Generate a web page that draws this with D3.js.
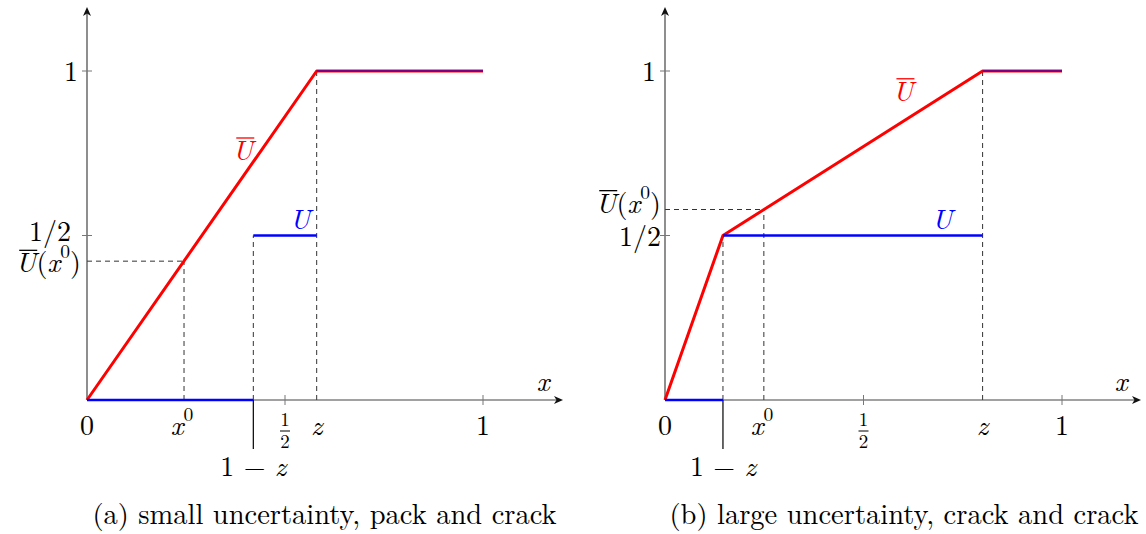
<!DOCTYPE html>
<html><head><meta charset="utf-8">
<script src="https://cdn.jsdelivr.net/npm/d3@7"></script>
<style>
body{margin:0;background:#fff;}
</style></head>
<body><svg id="c" width="1146" height="534"></svg>
<script>
// ---- data ----
const panels = ["a","b"];
const captions = ["(a) small uncertainty, pack and crack", "(b) large uncertainty, crack and crack"];
const zValues = [0.58, 0.80];
const oneMinusZValues = [0.42, 0.146];
const x0Values = [0.245, 0.249];
const redSeriesA = [[0,0],[0.58,1],[1,1]];
const redSeriesB = [[0,0],[0.146,0.5],[0.8,1],[1,1]];
const blueSeriesA = [[[0,0],[0.42,0]], [[0.42,0.5],[0.58,0.5]], [[0.58,1],[1,1]]];
const blueSeriesB = [[[0,0],[0.146,0]], [[0.146,0.5],[0.8,0.5]], [[0.8,1],[1,1]]];
const uBarAtX0 = [0.422, 0.579];
const yTickValues = [0.5, 1];
const yTickLabels = ["1/2", "1"];

const FONT = "Latin Modern Roman";
const svg = d3.select("#c");
const layouts = [
  {x0:87, x1:483, xEnd:563, capX:324.5, uBarLbl:[0.394,0.73], uLbl:[0.538,0.52]},
  {x0:665, x1:1062, xEnd:1141, capX:904, uBarLbl:[0.6,0.91], uLbl:[0.698,0.52]}
];
const reds = [redSeriesA, redSeriesB];
const blues = [blueSeriesA, blueSeriesB];

function mathText(g, x, y, parts, anchor, size){
  size = size || 28;
  const t = g.append("text").attr("x",x).attr("y",y).attr("text-anchor",anchor||"middle")
    .attr("font-family",FONT).attr("font-size",size);
  let idx = 0; const overs = [];
  parts.forEach(p=>{
    const s = t.append("tspan").text(p.t);
    if(p.i) s.attr("font-style","italic");
    if(p.sup) s.attr("baseline-shift","super").attr("font-size",size*0.7);
    if(p.fill) s.attr("fill",p.fill);
    if(p.over) overs.push({i:idx, fill:p.fill||"#000"});
    idx += p.t.length;
  });
  overs.forEach(o=>{
    const e = t.node().getExtentOfChar(o.i);
    g.append("line").attr("x1",e.x+0.13*size).attr("x2",e.x+e.width+0.03*size)
      .attr("y1",y-0.78*size).attr("y2",y-0.78*size).attr("stroke",o.fill).attr("stroke-width",1.3);
  });
  return t;
}

panels.forEach((p,k)=>{
  const L = layouts[k];
  const g = svg.append("g");
  const x = d3.scaleLinear().domain([0,1]).range([L.x0, L.x1]);
  const y = d3.scaleLinear().domain([0,1]).range([400, 71]);
  const z = zValues[k], omz = oneMinusZValues[k], xz = x0Values[k], ux = uBarAtX0[k];

  // dashed guides
  const dash = (x1,y1,x2,y2)=>g.append("line").attr("x1",x1).attr("y1",y1).attr("x2",x2).attr("y2",y2)
      .attr("stroke","#333").attr("stroke-width",1).attr("stroke-dasharray","5,4");
  dash(x(omz), y(0), x(omz), y(0.5));
  dash(x(z), y(0), x(z), y(1));
  dash(x(xz), y(0), x(xz), y(ux));
  dash(x(0), y(ux), x(xz), y(ux));

  // axes
  const axc = "#444";
  g.append("line").attr("x1",x(0)).attr("y1",y(0)).attr("x2",L.xEnd-4).attr("y2",y(0)).attr("stroke",axc).attr("stroke-width",1.2);
  g.append("line").attr("x1",x(0)).attr("y1",y(0)).attr("x2",x(0)).attr("y2",11).attr("stroke",axc).attr("stroke-width",1.2);
  g.append("path").attr("d",`M${L.xEnd},${y(0)} l-9,-4 l2.5,4 l-2.5,4 z`).attr("fill","#111");
  g.append("path").attr("d",`M${x(0)},7 l-4,9 l4,-2.5 l4,2.5 z`).attr("fill","#111");

  // ticks
  yTickValues.forEach(v=>g.append("line").attr("x1",x(0)-5).attr("x2",x(0)+5).attr("y1",y(v)).attr("y2",y(v)).attr("stroke","#777"));
  [0.5,1].forEach(v=>g.append("line").attr("x1",x(v)).attr("x2",x(v)).attr("y1",y(0)-5).attr("y2",y(0)+5).attr("stroke","#777"));
  g.append("line").attr("x1",x(omz)).attr("x2",x(omz)).attr("y1",y(0)).attr("y2",y(0)+49).attr("stroke","#000").attr("stroke-width",1.2);

  // series
  const line = d3.line().x(d=>x(d[0])).y(d=>y(d[1]));
  g.append("path").attr("d",line(reds[k])).attr("fill","none").attr("stroke","#f00").attr("stroke-width",3).attr("stroke-linejoin","round");
  blues[k].forEach((seg,i)=>{
    g.append("path").attr("d",line(seg)).attr("fill","none").attr("stroke","#00f").attr("stroke-width",i===2?2:2.4)
      .attr("stroke-opacity",i===2?0.5:1);
  });

  // x tick labels
  const ly = 435;
  mathText(g, x(0), ly, [{t:"0"}]);
  mathText(g, x(xz)-2, ly, [{t:"x",i:1},{t:"0",sup:1}]);
  mathText(g, x(z), ly, [{t:"z",i:1}]);
  mathText(g, x(1), ly, [{t:"1"}]);
  mathText(g, x(omz), 476, [{t:"1 − "},{t:"z",i:1}]);
  const fx = x(0.5);
  g.append("text").attr("x",fx).attr("y",426).attr("text-anchor","middle").attr("font-family",FONT).attr("font-size",19).text("1");
  g.append("line").attr("x1",fx-5).attr("x2",fx+5).attr("y1",431).attr("y2",431).attr("stroke","#000").attr("stroke-width",1);
  g.append("text").attr("x",fx).attr("y",448).attr("text-anchor","middle").attr("font-family",FONT).attr("font-size",19).text("2");
  mathText(g, L.xEnd-20, 391, [{t:"x",i:1}]);

  // y tick labels
  mathText(g, x(0)-9, y(1)+10, [{t:yTickLabels[1]}], "end");
  if(k===0){
    mathText(g, x(0)-16, y(0.5)+5, [{t:yTickLabels[0]}], "end");
    mathText(g, x(0)-6, y(ux)+11, [{t:"U",i:1,over:1},{t:"("},{t:"x",i:1},{t:"0",sup:1},{t:")"}], "end");
  } else {
    mathText(g, x(0)-4, y(0.5)+10, [{t:yTickLabels[0]}], "end");
    mathText(g, x(0)-4, y(ux)+3, [{t:"U",i:1,over:1},{t:"("},{t:"x",i:1},{t:"0",sup:1},{t:")"}], "end");
  }

  // series labels
  mathText(g, x(L.uBarLbl[0]), y(L.uBarLbl[1]), [{t:"U",i:1,over:1,fill:"#f00"}]);
  mathText(g, x(L.uLbl[0]), y(L.uLbl[1]), [{t:"U",i:1,fill:"#00f"}]);

  // caption
  g.append("text").attr("x",L.capX).attr("y",524).attr("text-anchor","middle").attr("font-family",FONT).attr("font-size",28.5).text(captions[k]);
});
</script></body></html>
